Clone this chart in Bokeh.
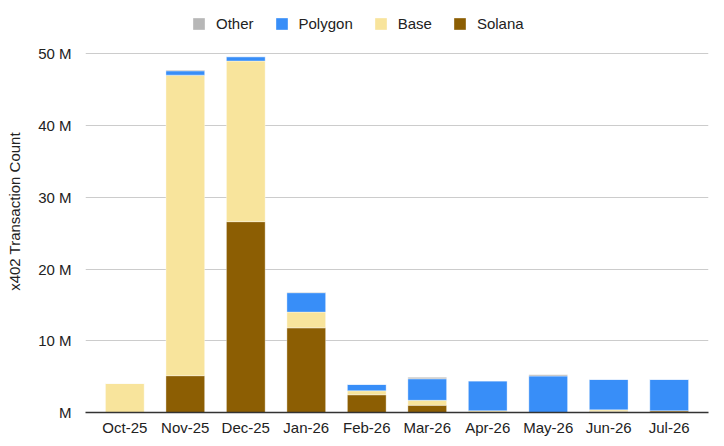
from bokeh.plotting import figure
from bokeh.models import (ColumnDataSource, FactorRange, Range1d, FixedTicker,
                          CustomJSTickFormatter, Legend, LegendItem)
from bokeh.embed import file_html
from bokeh.resources import INLINE

months = ["Oct-25", "Nov-25", "Dec-25", "Jan-26", "Feb-26",
          "Mar-26", "Apr-26", "May-26", "Jun-26", "Jul-26"]
solana = [0.0, 5.13, 26.6, 11.8, 2.47, 1.0, 0.05, 0.0, 0.15, 0.24]
base = [4.05, 41.9, 22.4, 2.2, 0.56, 0.7, 0.2, 0.0, 0.22, 0.0]
polygon = [0.0, 0.6, 0.6, 2.7, 0.87, 3.0, 4.15, 5.08, 4.23, 4.36]
other = [0.0, 0.1, 0.0, 0.05, 0.0, 0.2, 0.0, 0.17, 0.0, 0.0]
y_ticks = [0, 10, 20, 30, 40, 50]

series = ["Solana", "Base", "Polygon", "Other"]
colors = ["#8c5e03", "#f8e49c", "#388ef8", "#b7b7b7"]

M = 1e6
source = ColumnDataSource(dict(
    month=months,
    Solana=[v * M for v in solana],
    Base=[v * M for v in base],
    Polygon=[v * M for v in polygon],
    Other=[v * M for v in other],
))

FONT = "Liberation Sans"
FS = "15px"

# frame extends above the 50 M gridline to leave room for the legend
p = figure(x_range=FactorRange(factors=months, range_padding=0.03),
           y_range=Range1d(0, 56.04 * M),
           width=720, height=444,
           min_border_left=85, min_border_right=12,
           min_border_top=10, min_border_bottom=32,
           output_backend="svg", toolbar_location=None,
           background_fill_color="white", border_fill_color="white")
p.outline_line_color = None

renderers = p.vbar_stack(series, x="month", width=0.64, color=colors,
                         line_color="white", line_width=0.6, line_alpha=0.6,
                         source=source)

# axes
p.yaxis.ticker = FixedTicker(ticks=[t * M for t in y_ticks])
p.yaxis.formatter = CustomJSTickFormatter(
    code='return tick == 0 ? "M" : (tick/1e6).toFixed(0) + " M";')
p.yaxis.axis_line_color = None
p.yaxis.major_tick_line_color = None
p.yaxis.minor_tick_line_color = None
p.yaxis.major_label_standoff = 8
p.yaxis.major_label_text_font = FONT
p.yaxis.major_label_text_font_size = FS
p.yaxis.major_label_text_color = "#222222"
p.yaxis.axis_label = "x402 Transaction Count"
p.yaxis.axis_label_text_font = FONT
p.yaxis.axis_label_text_font_size = FS
p.yaxis.axis_label_text_font_style = "normal"
p.yaxis.axis_label_text_color = "#222222"
p.yaxis.axis_label_standoff = 12

p.xaxis.axis_line_color = "#333333"
p.xaxis.axis_line_width = 1.5
p.xaxis.major_tick_line_color = None
p.xaxis.minor_tick_line_color = None
p.xaxis.major_label_standoff = 0
p.xaxis.major_label_text_font = FONT
p.xaxis.major_label_text_font_size = FS
p.xaxis.major_label_text_color = "#222222"

p.xgrid.grid_line_color = None
p.ygrid.grid_line_color = "#cccccc"
p.ygrid.grid_line_width = 1

# legend, order as in reference
items = [LegendItem(label=s, renderers=[r]) for s, r in zip(series, renderers)]
items = items[::-1]
legend = Legend(items=items, orientation="horizontal", location=(106, 380),
                glyph_width=15, glyph_height=15, label_standoff=10, spacing=20,
                label_text_font=FONT, label_text_font_size=FS,
                label_text_color="#222222", border_line_color=None,
                background_fill_alpha=0, padding=0, margin=0)
p.add_layout(legend, "center")

open("out.html", "w").write(file_html(p, INLINE))
